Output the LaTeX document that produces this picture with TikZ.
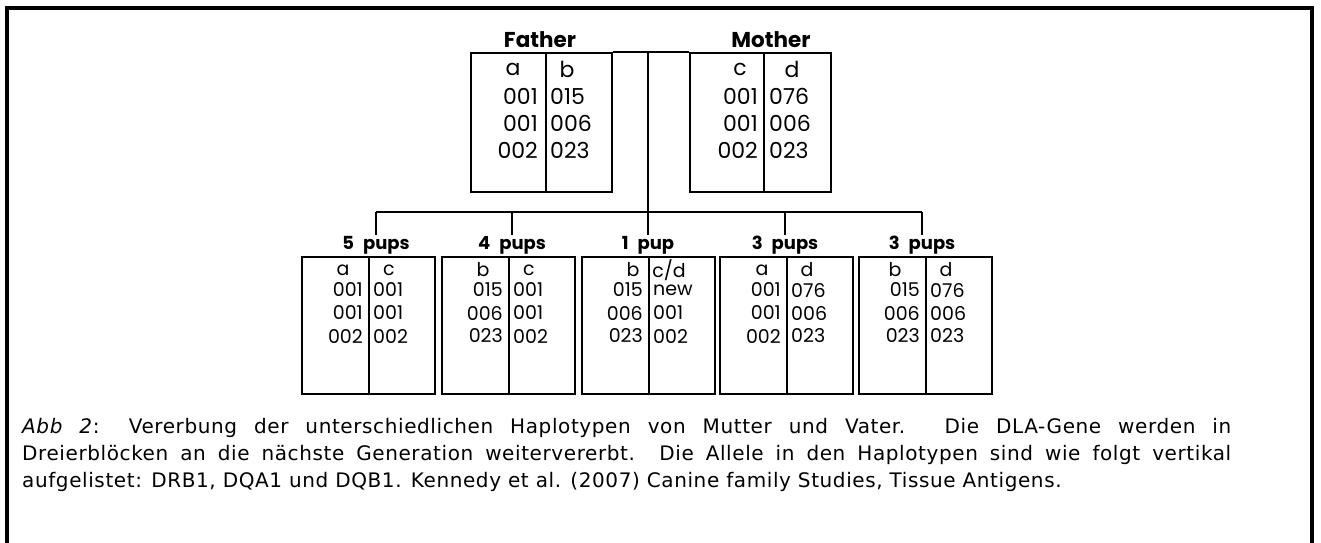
\documentclass[tikz,border=0pt]{standalone}
\usepackage{fontspec}
\setmainfont{DejaVu Sans}
\newfontfamily\capfont{DejaVu Sans}[LetterSpace=3]
\newfontfamily\comicfont{Poppins}
\usetikzlibrary{positioning,calc}

\begin{document}
\begin{tikzpicture}[x=1pt, y=-1pt,
    hbox/.style={draw, line width=1.8pt, inner sep=0pt},
    tree/.style={line width=1.8pt},
    allele/.style={font=\comicfont\fontsize{19}{19}\selectfont, inner sep=0pt},
    bigallele/.style={font=\comicfont\fontsize{22}{22}\selectfont, inner sep=0pt},
    parent/.style={font=\comicfont\bfseries\fontsize{21.5}{21}\selectfont, inner sep=1pt},
    litter/.style={font=\comicfont\bfseries\fontsize{18}{18}\selectfont, inner sep=1pt},
    capline/.style={font=\capfont\fontsize{20}{27}\selectfont, inner sep=0pt, anchor=base west}
]
    \useasboundingbox (0,0) rectangle (1321,542);

    % Frame (open at the bottom)
    \draw[line width=3.5pt] (7,545) -- (7,8) -- (1312,8) -- (1312,545);

    % Parents
    \node[hbox, minimum width=141pt, minimum height=139pt] (father) at (541.5,122.5) {};
    \node[hbox, minimum width=141pt, minimum height=139pt] (mother) at (760.5,122.5) {};
    \draw[tree] (546,53) -- (546,192);
    \draw[tree] (764,53) -- (764,192);
    \node[parent] (ftitle) at (540,40) {Father};
    \node[parent] (mtitle) at (771,40) {Mother};

    % father: a | b
    \node[bigallele] (fa) at (513,69) {a};
    \node[bigallele] (fb) at (567,69) {b};
    \foreach \y/\l/\r in {96/001/015, 123/001/006, 150/002/023} {
        \node[bigallele, anchor=east] at (538,\y) {\l};
        \node[bigallele, anchor=west] at (550,\y) {\r};
    }
    % mother: c | d
    \node[bigallele] (mc) at (740,69) {c};
    \node[bigallele] (md) at (792,69) {d};
    \foreach \y/\l/\r in {96/001/076, 123/001/006, 150/002/023} {
        \node[bigallele, anchor=east] at (758,\y) {\l};
        \node[bigallele, anchor=west] at (769,\y) {\r};
    }

    % Tree
    \coordinate (hub) at (648,53);
    \coordinate (fork) at (648,212);
    \draw[tree] (father.north east) -- (mother.north west);
    \draw[tree] (hub) -- (fork);
    \draw[tree] (376,212) -- (922,212);

    % Pups
    \foreach \n/\dv/\tx/\lab/\hx/\hl/\hr/\la/\lb/\lc/\ra/\rb/\rc in {
        1/369/376/5\enspace pups/-26/a/c/001/001/002/001/001/002,
        2/509/512/4\enspace pups/-26/b/c/015/006/023/001/001/002,
        3/649/648/1\enspace pup/-16/b/c\slash d/015/006/023/new/001/002,
        4/787/785/3\enspace pups/-25/a/d/001/001/002/076/006/023,
        5/926/922/3\enspace pups/-31/b/d/015/006/023/076/006/023} {
        \node[hbox, minimum width=133pt, minimum height=137pt] (p\n) at (\dv-0.5,325.5) {};
        \draw[tree] (\dv,257) -- (\dv,394);
        \coordinate (d\n) at (\tx,212);
        \node[litter] (l\n) at (\tx,245) {\lab};
        \draw[tree] (d\n) -- (l\n.north);
        \node[allele] at (\dv+\hx,270) {\hl};
        \node[allele] at (\dv+20,270) {\hr};
        \node[allele, anchor=east] at (\dv-6,290) {\la};
        \node[allele, anchor=east] at (\dv-6,313) {\lb};
        \node[allele, anchor=east] at (\dv-6,336) {\lc};
        \node[allele, anchor=west] at (\dv+4,290) {\ra};
        \node[allele, anchor=west] at (\dv+4,313) {\rb};
        \node[allele, anchor=west] at (\dv+4,336) {\rc};
    }

    % Caption, one node per line
    \node[capline] (cap1) at (22,433) {\makebox[1209pt][s]{\textit{Abb 2}: Vererbung der unterschiedlichen Haplotypen von Mutter und Vater. Die DLA-Gene werden in}};
    \node[capline] (cap2) at (22,460) {\makebox[1209pt][s]{Dreierblöcken an die nächste Generation weitervererbt. Die Allele in den Haplotypen sind wie folgt vertikal}};
    \node[capline] (cap3) at (22,487) {aufgelistet: DRB1, DQA1 und DQB1. Kennedy et al. (2007) Canine family Studies, Tissue Antigens.};
\end{tikzpicture}
\end{document}
